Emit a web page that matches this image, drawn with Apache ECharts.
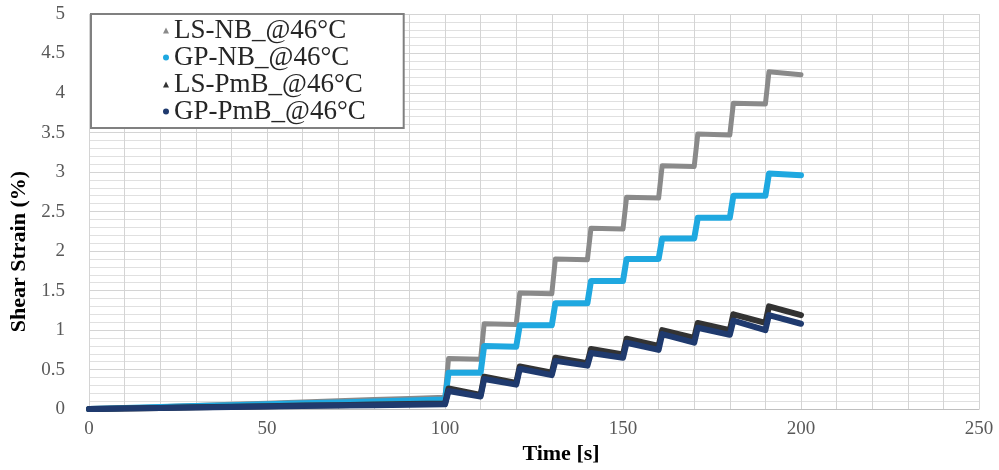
<!DOCTYPE html>
<html>
<head>
<meta charset="utf-8">
<script src="https://cdn.jsdelivr.net/npm/echarts@6/dist/echarts.min.js"></script>
<style>html,body{margin:0;padding:0;background:#fff}#c{width:999px;height:470px}</style>
</head>
<body>
<div id="c"></div>
<script>
var seriesNames = ['LS-NB_@46°C', 'GP-NB_@46°C', 'LS-PmB_@46°C', 'GP-PmB_@46°C'];
var time = [0,10,20,30,40,50,60,70,80,90,100,101,110,111,120,121,130,131,140,141,150,151,160,161,170,171,180,181,190,191,200];
var lsNB = [0,0.015,0.03,0.045,0.06,0.075,0.09,0.105,0.12,0.135,0.15,0.64,0.63,1.08,1.07,1.47,1.46,1.90,1.89,2.29,2.28,2.68,2.67,3.08,3.07,3.48,3.47,3.87,3.86,4.27,4.23];
var gpNB = [0,0.015,0.027,0.04,0.05,0.062,0.073,0.085,0.096,0.108,0.12,0.46,0.46,0.80,0.79,1.06,1.06,1.34,1.34,1.62,1.62,1.90,1.90,2.16,2.16,2.42,2.42,2.70,2.70,2.98,2.96];
var lsPmB = [0,0.008,0.015,0.022,0.03,0.037,0.044,0.05,0.057,0.063,0.07,0.26,0.18,0.41,0.33,0.54,0.46,0.65,0.58,0.76,0.69,0.89,0.80,1.00,0.90,1.09,1.00,1.20,1.09,1.30,1.19];
var gpPmB = [0,0.007,0.013,0.02,0.026,0.032,0.038,0.044,0.05,0.055,0.06,0.23,0.16,0.38,0.31,0.51,0.43,0.61,0.55,0.71,0.65,0.84,0.75,0.95,0.84,1.03,0.94,1.12,1.00,1.19,1.08];
var xTicks = [0, 50, 100, 150, 200, 250];
var yTicks = [0, 0.5, 1, 1.5, 2, 2.5, 3, 3.5, 4, 4.5, 5];

var colors = ['#8a8a8a', '#1fa8e0', '#333333', '#1f3a6e'];
var icons = ['triangle', 'circle', 'triangle', 'circle'];
var widths = [5, 6, 6, 6];
var values = [lsNB, gpNB, lsPmB, gpPmB];

function pairs(v) { return time.map(function (t, i) { return [t, v[i]]; }); }

var serif = '"Liberation Serif", "Times New Roman", serif';
var gridColor = '#d4d4d4';

var chart = echarts.init(document.getElementById('c'), null, {renderer: 'canvas'});
chart.setOption({
  animation: false,
  backgroundColor: '#fff',
  grid: {left: 89, right: 20, top: 14, bottom: 45},
  legend: {
    orient: 'vertical',
    left: 91, top: 14,
    padding: [3, 38, 3, 72],
    itemGap: 0,
    itemWidth: 6, itemHeight: 6,
    borderColor: '#808080', borderWidth: 2,
    backgroundColor: '#ffffff',
    textStyle: {fontFamily: serif, fontSize: 27, color: '#262626', lineHeight: 27},
    data: seriesNames.map(function (n, i) { return {name: n, icon: icons[i]}; })
  },
  xAxis: {
    type: 'value', min: xTicks[0], max: xTicks[xTicks.length - 1], interval: 50,
    name: 'Time [s]', nameLocation: 'middle', nameGap: 22,
    nameTextStyle: {fontFamily: serif, fontSize: 22, fontWeight: 'bold', color: '#000', padding: [0, 0, 0, 54]},
    axisLine: {show: true, lineStyle: {color: '#bfbfbf'}},
    axisTick: {show: false},
    axisLabel: {fontFamily: serif, fontSize: 19, color: '#595959', margin: 10},
    splitLine: {show: true, lineStyle: {color: gridColor, width: 1}},
    minorTick: {show: false, splitNumber: 5},
    minorSplitLine: {show: true, lineStyle: {color: gridColor, width: 1}}
  },
  yAxis: {
    type: 'value', min: yTicks[0], max: yTicks[yTicks.length - 1], interval: 0.5,
    name: 'Shear Strain (%)', nameLocation: 'middle', nameGap: 56,
    nameTextStyle: {fontFamily: serif, fontSize: 22, fontWeight: 'bold', color: '#000', padding: [0, 80, 0, 0]},
    axisLine: {show: false},
    axisTick: {show: false},
    axisLabel: {fontFamily: serif, fontSize: 19, color: '#595959', margin: 24},
    splitLine: {show: true, lineStyle: {color: gridColor, width: 1}},
    minorTick: {show: false, splitNumber: 5},
    minorSplitLine: {show: true, lineStyle: {color: '#e0e0e0', width: 1}}
  },
  series: seriesNames.map(function (n, i) {
    return {
      name: n, type: 'line', data: pairs(values[i]),
      symbol: 'none', showSymbol: false,
      color: colors[i],
      lineStyle: {color: colors[i], width: widths[i], join: 'round', cap: 'round'},
      z: 2 + i
    };
  })
});
</script>
</body>
</html>
